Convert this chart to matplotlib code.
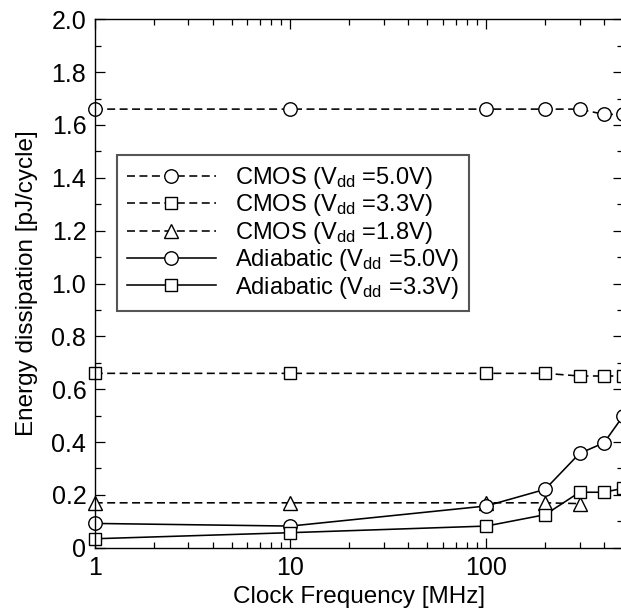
import matplotlib
matplotlib.use("Agg")
import matplotlib.pyplot as plt
from matplotlib.ticker import FixedLocator, FixedFormatter, MultipleLocator

plt.rcParams['font.family'] = ['Liberation Sans', 'DejaVu Sans']
plt.rcParams['mathtext.default'] = 'regular'

# ---------------- datos ----------------
freq = [1, 10, 100, 200, 300, 400, 500]
freq_18 = [1, 10, 100, 200, 300]

cmos_50 = [1.66, 1.66, 1.66, 1.66, 1.66, 1.64, 1.64]
cmos_33 = [0.66, 0.66, 0.66, 0.66, 0.65, 0.65, 0.65]
cmos_18 = [0.17, 0.17, 0.17, 0.17, 0.167]
adia_50 = [0.092, 0.082, 0.158, 0.221, 0.357, 0.397, 0.498]
adia_33 = [0.034, 0.057, 0.082, 0.125, 0.210, 0.210, 0.225]

labels = ['CMOS (V$_{dd}$ =5.0V)', 'CMOS (V$_{dd}$ =3.3V)', 'CMOS (V$_{dd}$ =1.8V)',
          'Adiabatic (V$_{dd}$ =5.0V)', 'Adiabatic (V$_{dd}$ =3.3V)']

x_ticks = [1, 10, 100]
x_ticklabels = ['1', '10', '100']
y_ticks = [0, 0.2, 0.4, 0.6, 0.8, 1.0, 1.2, 1.4, 1.6, 1.8, 2.0]
y_ticklabels = ['0', '0.2', '0.4', '0.6', '0.8', '1.0', '1.2', '1.4', '1.6', '1.8', '2.0']

# ---------------- figura ----------------
fig = plt.figure(figsize=(6.21, 6.12), dpi=100)
ax = fig.add_axes([0.1525, 0.105, 0.8507, 0.8635])

dash = (0, (5.0, 2.8))
comun = dict(color='black', lw=1.15, mfc='white', mec='black', mew=1.0, clip_on=False)

ax.plot(freq, cmos_50, ls=dash, marker='o', ms=9.7, label=labels[0], **comun)
ax.plot(freq, cmos_33, ls=dash, marker='s', ms=8, label=labels[1], **comun)
ax.plot(freq_18, cmos_18, ls=dash, marker='^', ms=9.5, label=labels[2], **comun)
ax.plot(freq, adia_50, ls='-', marker='o', ms=9.7, label=labels[3], **comun)
ax.plot(freq, adia_33, ls='-', marker='s', ms=8, label=labels[4], **comun)

ax.set_xscale('log')
ax.set_xlim(1, 500)
ax.set_ylim(0, 2.0)

ax.xaxis.set_major_locator(FixedLocator(x_ticks))
ax.xaxis.set_major_formatter(FixedFormatter(x_ticklabels))
minors = [m * d for d in (1, 10, 100) for m in range(2, 10)]
ax.xaxis.set_minor_locator(FixedLocator(minors))
ax.xaxis.set_minor_formatter(FixedFormatter([''] * len(minors)))

ax.yaxis.set_major_locator(FixedLocator(y_ticks))
ax.yaxis.set_major_formatter(FixedFormatter(y_ticklabels))
ax.yaxis.set_minor_locator(MultipleLocator(0.1))

ax.tick_params(which='both', direction='in', top=True, right=True, width=0.9, labelsize=18)
ax.tick_params(which='major', length=7.5, pad=6)
ax.tick_params(which='minor', length=4)
for s in ax.spines.values():
    s.set_linewidth(1.0)

ax.set_xlabel('Clock Frequency [MHz]', fontsize=17.5, labelpad=4)
ax.set_ylabel('Energy dissipation [pJ/cycle]', fontsize=17.5, labelpad=10)

leg = ax.legend(loc='upper left', bbox_to_anchor=(0.0416, 0.743), fontsize=17,
                handlelength=3.8, handletextpad=0.8, labelspacing=0.06,
                borderpad=0.42, borderaxespad=0, fancybox=False, framealpha=1)
leg.get_frame().set_edgecolor('#555555')
leg.get_frame().set_linewidth(1.5)

fig.savefig('out.png', dpi=100)
